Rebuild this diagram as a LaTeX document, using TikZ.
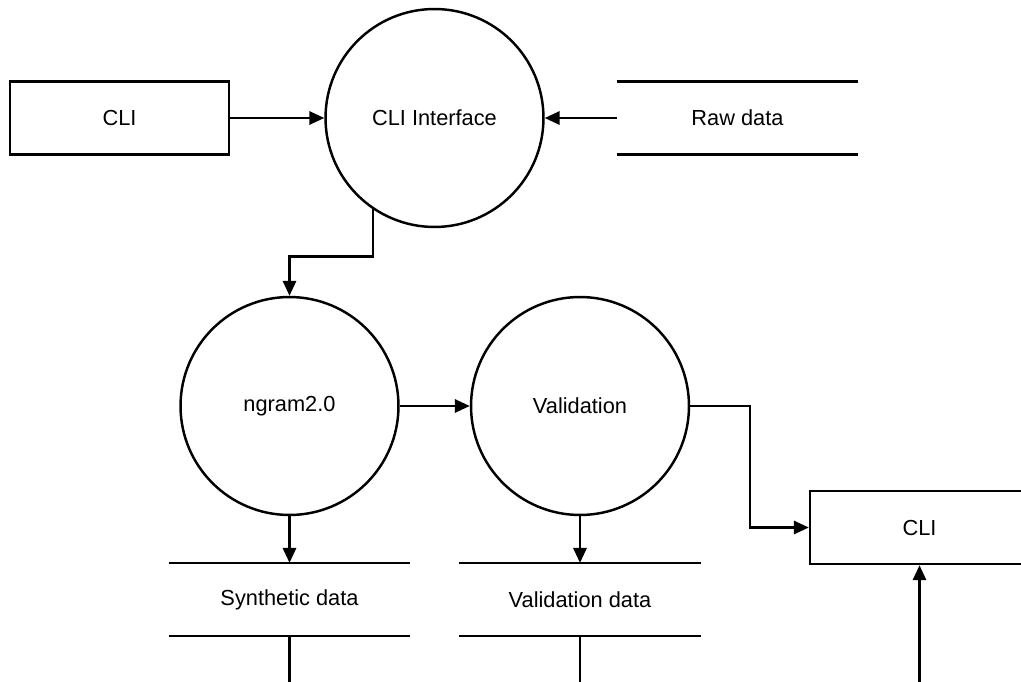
\documentclass[tikz,border=0pt]{standalone}
\usepackage{fontspec}
\setmainfont{Liberation Sans}
\usetikzlibrary{arrows.meta}
\tikzstyle{process} = [circle, draw, line width=1.4pt,
  inner sep=0pt, minimum size=4.36cm]
\tikzstyle{entity} = [rectangle, draw, line width=1.4pt,
  minimum width=4.38cm, minimum height=1.46cm]
\tikzstyle{store} = [rectangle, minimum width=4.82cm, minimum height=1.45cm]
\tikzstyle{flow} = [line width=1.4pt, -{Triangle[length=8.5pt, width=7.5pt]}]

\begin{document}
\begin{tikzpicture}[x=0.02cm, y=-0.02cm, font=\fontsize{12.4}{14}\selectfont]
  \useasboundingbox (0,0) rectangle (1021,682);
  \clip (0,0) rectangle (1021,682);
  % top row
  \node[entity] (cli) at (119.5, 118) {CLI};
  \node[process] (iface) at (434.5, 118) {CLI Interface};
  \node[store] (raw) at (737.5, 118) {Raw data};
  % middle row
  \node[process] (ngram) at (289.5, 406) {ngram2.0};
  \node[process] (valid) at (580, 406) {Validation};
  \node[entity] (cliout) at (919.5, 527.5) {CLI};
  % stores
  \node[store] (synth) at (289.5, 599.5) {Synthetic data};
  \node[store] (vdata) at (580, 599.5) {Validation data};
  \foreach \s in {raw, synth, vdata} {
    \draw[line width=1.4pt] (\s.north west) -- (\s.north east)
      (\s.south west) -- (\s.south east);
  }
  % loose ends at the bottom
  \coordinate (synthend) at (289.5, 690);
  \coordinate (vdataend) at (580, 690);
  \coordinate (cliin) at (919.5, 690);
  % flows
  \draw[flow] (cli) -- (iface);
  \draw[flow] (raw) -- (iface);
  \draw[flow] (iface.-124) -- ++(0,47) -| (ngram);
  \draw[flow] (ngram) -- (valid);
  \draw[flow] (valid.east) -- ++(60,0) |- (cliout.west);
  \draw[flow] (ngram) -- (synth.north);
  \draw[flow] (valid) -- (vdata.north);
  \draw[line width=1.4pt] (synth.south) -- (synthend);
  \draw[line width=1.4pt] (vdata.south) -- (vdataend);
  \draw[flow] (cliin) -- (cliout.south);
\end{tikzpicture}
\end{document}
